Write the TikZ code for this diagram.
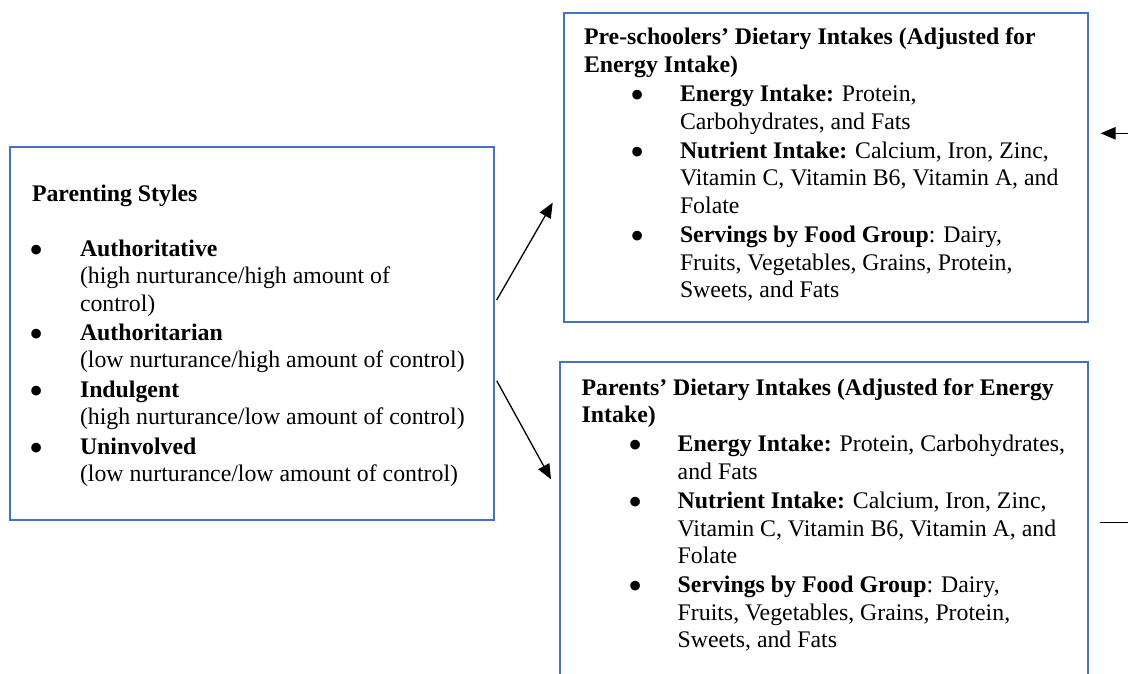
\documentclass[tikz,border=0pt]{standalone}
\usepackage{graphicx}
\usepackage{fontspec}
\setmainfont{Liberation Serif}
\usetikzlibrary{arrows.meta}
\definecolor{boxblue}{HTML}{4472C4}

% a block of lines whose reference point is the baseline of its first line
\newcommand\textlines[1]{\vtop{\baselineskip=27.2pt\lineskiplimit=-1000pt\halign{##\hfil\cr#1\crcr}}}
\newcommand\itemgap{\noalign{\vskip2.5pt}}
% a larger, lower list bullet
\newcommand\bigbullet{\hspace*{-2pt}\raisebox{-6.5pt}{\scalebox{1.7}{\textbullet}}}
% bullets and hanging text, left box
\newcommand\lbul{\makebox[48pt][l]{\bigbullet}}
\newcommand\ltxt{\hspace*{48pt}}
% bullets and hanging text, right boxes
\newcommand\rbul{\hspace*{48.5pt}\makebox[47.5pt][l]{\bigbullet}}
\newcommand\rtxt{\hspace*{96pt}}

\tikzset{
  panel/.style={draw=boxblue, line width=2pt, inner sep=0pt, outer sep=0pt, anchor=north west},
  txt/.style={inner sep=0pt, outer sep=0pt, anchor=base west, text=black,
              font=\fontsize{23.8pt}{27.2pt}\selectfont},
  link/.style={draw=black, line width=1.3pt},
  arrowlink/.style={link, -{Triangle[length=15pt,width=12.5pt]}}
}

\begin{document}
\begin{tikzpicture}[x=1pt, y=-1pt]
\useasboundingbox (0,0) rectangle (1128,674);
\fill[white] (0,0) rectangle (1128,674);
\clip (0,0) rectangle (1128,674);

% boxes
\node[panel, minimum width=484pt, minimum height=373pt] (styles) at (10,147) {};
\node[panel, minimum width=524pt, minimum height=309pt] (kids) at (564,13) {};
\node[panel, minimum width=528pt, minimum height=340pt] (parents) at (560,362) {};

% box contents
\node[txt] (stylestext) at (32,201) {\textlines{%
\textbf{Parenting Styles}\cr
\noalign{\vskip28.5pt}
\lbul\textbf{Authoritative}\cr
\ltxt(high nurturance/high amount of\cr
\ltxt control)\cr\itemgap
\lbul\textbf{Authoritarian}\cr
\ltxt(low nurturance/high amount of control)\cr\itemgap
\lbul\textbf{Indulgent}\cr
\ltxt(high nurturance/low amount of control)\cr\itemgap
\lbul\textbf{Uninvolved}\cr
\ltxt(low nurturance/low amount of control)\cr}};

\node[txt] (kidstext) at (584,45) {\textlines{%
\textbf{Pre-schoolers’ Dietary Intakes (Adjusted for}\cr
\textbf{Energy Intake)}\cr\itemgap
\rbul\textbf{Energy Intake:} Protein,\cr
\rtxt Carbohydrates, and Fats\cr\itemgap
\rbul\textbf{Nutrient Intake:} Calcium, Iron, Zinc,\cr
\rtxt Vitamin C, Vitamin B6, Vitamin A, and\cr
\rtxt Folate\cr\itemgap
\rbul\textbf{Servings by Food Group}: Dairy,\cr
\rtxt Fruits, Vegetables, Grains, Protein,\cr
\rtxt Sweets, and Fats\cr}};

\node[txt] (parentstext) at (581.7,395) {\textlines{%
\textbf{Parents’ Dietary Intakes (Adjusted for Energy}\cr
\textbf{Intake)}\cr\itemgap
\rbul\textbf{Energy Intake:} Protein, Carbohydrates,\cr
\rtxt and Fats\cr\itemgap
\rbul\textbf{Nutrient Intake:} Calcium, Iron, Zinc,\cr
\rtxt Vitamin C, Vitamin B6, Vitamin A, and\cr
\rtxt Folate\cr\itemgap
\rbul\textbf{Servings by Food Group}: Dairy,\cr
\rtxt Fruits, Vegetables, Grains, Protein,\cr
\rtxt Sweets, and Fats\cr}};

% connector ends
\coordinate (toKidsFrom) at (496.7,300);
\coordinate (toKidsTo) at (552.7,202.7);
\coordinate (toParentsFrom) at (496.7,380.7);
\coordinate (toParentsTo) at (551,479.3);
\coordinate (inFrom) at (1128,133.3);
\coordinate (inTo) at (1100.7,133.3);
\coordinate (outFrom) at (1100,522.7);
\coordinate (outTo) at (1128,522.7);

% connectors
\draw[arrowlink] (toKidsFrom) -- (toKidsTo);
\draw[arrowlink] (toParentsFrom) -- (toParentsTo);
\draw[arrowlink] (inFrom) -- (inTo);
\draw[link] (outFrom) -- (outTo);
\end{tikzpicture}
\end{document}
